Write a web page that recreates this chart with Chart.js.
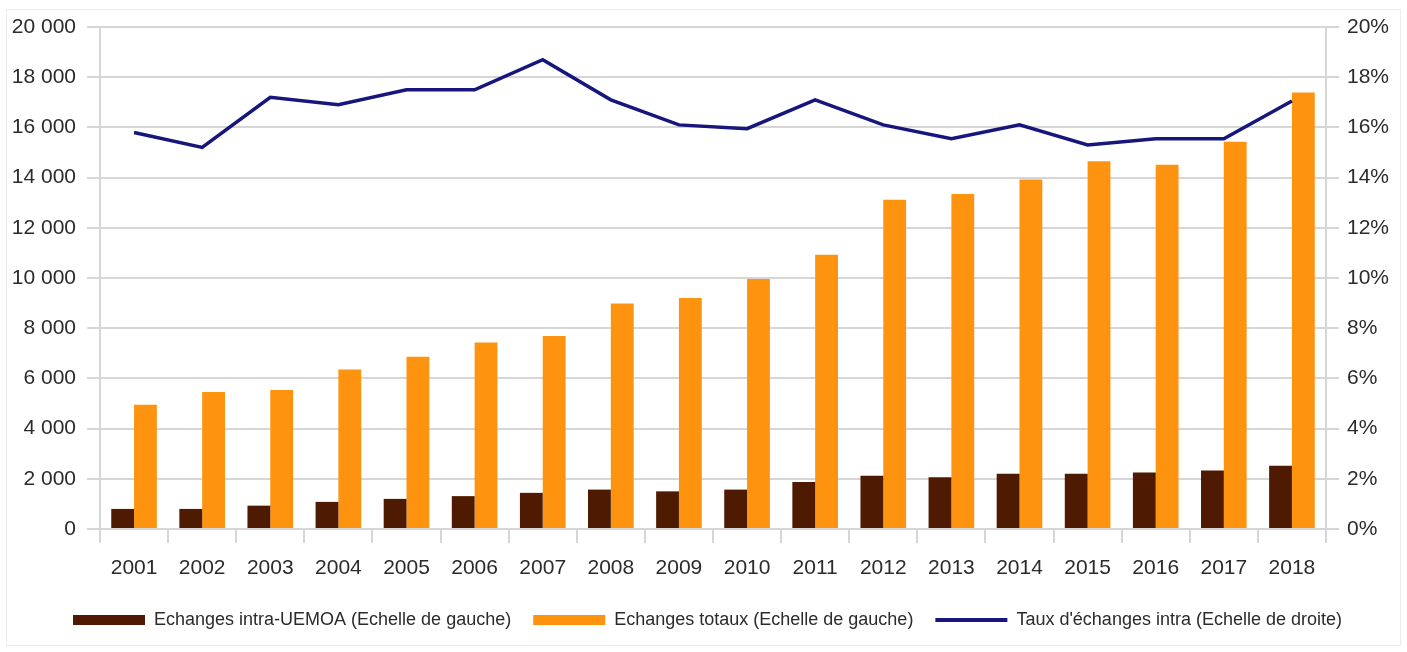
<!DOCTYPE html>
<html lang="fr">
<head>
<meta charset="utf-8">
<title>Échanges intra-UEMOA 2001-2018</title>
<script src="https://cdn.jsdelivr.net/npm/chart.js@4.4.1/dist/chart.umd.min.js"></script>
<style>
  html, body { margin: 0; padding: 0; background: #ffffff; }
  #wrap { position: relative; width: 1407px; height: 652px; }
  #frame { position: absolute; left: 6px; top: 9px; width: 1393px; height: 635px;
           border: 1px solid #ececec; pointer-events: none; }
  canvas { position: absolute; left: 0; top: 0; }
</style>
</head>
<body>
<div id="wrap">
  <canvas id="chart" width="1407" height="652"></canvas>
  <div id="frame"></div>
</div>
<script>
// Années
const years = ['2001', '2002', '2003', '2004', '2005', '2006', '2007', '2008', '2009',
               '2010', '2011', '2012', '2013', '2014', '2015', '2016', '2017', '2018'];

// Echanges intra-UEMOA (échelle de gauche)
const intraUemoa = [800, 800, 930, 1080, 1200, 1310, 1440, 1570, 1500,
                    1570, 1870, 2120, 2060, 2200, 2200, 2250, 2330, 2520];

// Echanges totaux (échelle de gauche)
const totalTrade = [4950, 5460, 5540, 6350, 6860, 7430, 7690, 8980, 9200,
                    9960, 10930, 13120, 13350, 13920, 14650, 14510, 15430, 17390];

// Taux d'échanges intra, en % (échelle de droite)
const intraShare = [15.8, 15.2, 17.2, 16.9, 17.5, 17.5, 18.7, 17.1, 16.1,
                    15.95, 17.1, 16.1, 15.55, 16.1, 15.3, 15.55, 15.55, 17.05];

// Graduations des axes
const leftTicks = { min: 0, max: 20000, step: 2000 };
const rightTicks = { min: 0, max: 20, step: 2 };

const legendLabels = [
  'Echanges intra-UEMOA (Echelle de gauche)',
  'Echanges totaux (Echelle de gauche)',
  "Taux d'échanges intra (Echelle de droite)"
];

const FONT = "'Liberation Sans', Arial, sans-serif";
const TEXT = '#2b2b2b';
const GRID = '#d6d6d6';

function spaced(v) {
  if (v < 1000) return String(v);
  return Math.floor(v / 1000) + ' ' + String(v % 1000).padStart(3, '0');
}

new Chart(document.getElementById('chart'), {
  type: 'bar',
  data: {
    labels: years,
    datasets: [
      {
        label: legendLabels[0],
        data: intraUemoa,
        backgroundColor: '#4e1b02',
        yAxisID: 'y',
        order: 2,
        pointStyle: 'rect'
      },
      {
        label: legendLabels[1],
        data: totalTrade,
        backgroundColor: '#fd930f',
        yAxisID: 'y',
        order: 2,
        pointStyle: 'rect'
      },
      {
        type: 'line',
        label: legendLabels[2],
        data: intraShare,
        borderColor: '#16167c',
        backgroundColor: '#16167c',
        borderWidth: 3.5,
        pointRadius: 0,
        tension: 0,
        yAxisID: 'y1',
        order: 0,
        pointStyle: 'line'
      }
    ]
  },
  options: {
    responsive: false,
    animation: false,
    devicePixelRatio: 1,
    layout: { padding: { left: 8, right: 0, top: 27, bottom: 13 } },
    datasets: {
      bar: { categoryPercentage: 0.67, barPercentage: 1.0 }
    },
    plugins: {
      tooltip: { enabled: false },
      legend: {
        position: 'bottom',
        labels: {
          usePointStyle: true,
          pointStyleWidth: 72,
          boxWidth: 72,
          boxHeight: 10,
          padding: 22,
          color: TEXT,
          font: { family: FONT, size: 18 },
          generateLabels(chart) {
            return chart.data.datasets.map((ds, i) => ({
              text: ds.label,
              fillStyle: ds.backgroundColor,
              strokeStyle: ds.type === 'line' ? ds.borderColor : ds.backgroundColor,
              lineWidth: ds.type === 'line' ? 4 : 0,
              pointStyle: ds.pointStyle,
              fontColor: TEXT,
              hidden: false,
              datasetIndex: i
            }));
          }
        }
      }
    },
    scales: {
      x: {
        offset: true,
        grid: {
          offset: true,
          drawOnChartArea: false,
          drawTicks: true,
          tickLength: 14,
          color: GRID,
          lineWidth: 2
        },
        border: { display: true, color: GRID, width: 2 },
        ticks: {
          color: TEXT,
          font: { family: FONT, size: 21 },
          padding: 13,
          maxRotation: 0,
          autoSkip: false
        },
        afterFit(scale) { scale.height = 60; }
      },
      y: {
        position: 'left',
        min: leftTicks.min,
        max: leftTicks.max,
        grid: {
          color: GRID,
          lineWidth: 2,
          drawTicks: true,
          tickLength: 13
        },
        border: { display: true, color: GRID, width: 2 },
        ticks: {
          stepSize: leftTicks.step,
          color: TEXT,
          font: { family: FONT, size: 21 },
          padding: 11,
          callback: (v) => spaced(v)
        },
        afterFit(scale) { scale.width = 92; }
      },
      y1: {
        position: 'right',
        min: rightTicks.min,
        max: rightTicks.max,
        grid: {
          drawOnChartArea: false,
          drawTicks: true,
          tickLength: 13,
          color: GRID,
          lineWidth: 2
        },
        border: { display: true, color: GRID, width: 2 },
        ticks: {
          stepSize: rightTicks.step,
          color: TEXT,
          font: { family: FONT, size: 21 },
          padding: 8,
          callback: (v) => v + '%'
        },
        afterFit(scale) { scale.width = 81; }
      }
    }
  }
});
</script>
</body>
</html>
